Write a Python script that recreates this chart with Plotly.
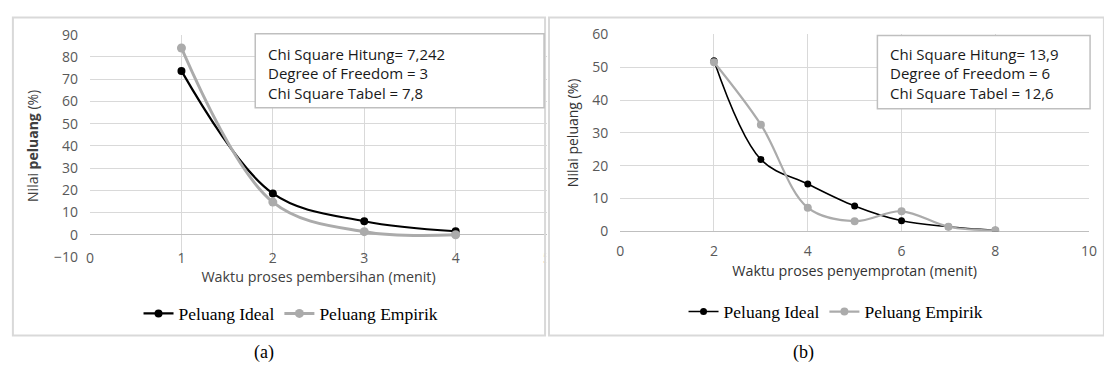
import plotly.graph_objects as go

W, H = 1104, 370

# ---------------- data ----------------
x_a = [1, 2, 3, 4]
ideal_a = [73.7, 18.6, 6.1, 1.6]
empirik_a = [84.0, 14.7, 1.4, 0.0]

x_b = [2, 3, 4, 5, 6, 7, 8]
ideal_b = [52.0, 21.9, 14.4, 7.7, 3.2, 1.4, 0.3]
empirik_b = [51.5, 32.5, 7.2, 3.1, 6.1, 1.4, 0.3]

series_names = ["Peluang Ideal", "Peluang Empirik"]

xticks_a = [0, 1, 2, 3, 4, 5]
yticks_a = [-10, 0, 10, 20, 30, 40, 50, 60, 70, 80, 90]
xticks_b = [0, 2, 4, 6, 8, 10]
yticks_b = [0, 10, 20, 30, 40, 50, 60]

xtitle_a = "Waktu proses pembersihan (menit)"
xtitle_b = "Waktu proses penyemprotan (menit)"
ytitle_a = "Nilai <b>peluang</b> (%)"
ytitle_b = "Nilai peluang (%)"

chi_a = ["Chi Square Hitung= 7,242", "Degree of Freedom = 3", "Chi Square Tabel = 7,8"]
chi_b = ["Chi Square Hitung= 13,9", "Degree of Freedom = 6", "Chi Square Tabel = 12,6"]
panel_labels = ["(a)", "(b)"]

# ---------------- helpers (pixel -> paper) ----------------
def px(x):
    return x / W

def py(y):
    return 1 - y / H

SANS = "Open Sans"
SERIF = "Liberation Serif"
TICK = "#595959"
TITLE = "#404040"
GRID = "#d9d9d9"
GREY = "#ababab"

fig = go.Figure()

# left panel traces
fig.add_trace(go.Scatter(x=x_a, y=ideal_a, name=series_names[0], mode="lines+markers",
                         line=dict(color="black", width=2.2, shape="spline"),
                         marker=dict(size=8, color="black"),
                         xaxis="x", yaxis="y", legend="legend"))
fig.add_trace(go.Scatter(x=x_a, y=empirik_a, name=series_names[1], mode="lines+markers",
                         line=dict(color=GREY, width=3, shape="spline"),
                         marker=dict(size=9, color=GREY),
                         xaxis="x", yaxis="y", legend="legend"))
# right panel traces
fig.add_trace(go.Scatter(x=x_b, y=ideal_b, name=series_names[0], mode="lines+markers",
                         line=dict(color="black", width=1.6, shape="spline"),
                         marker=dict(size=7, color="black"),
                         xaxis="x2", yaxis="y2", legend="legend2"))
fig.add_trace(go.Scatter(x=x_b, y=empirik_b, name=series_names[1], mode="lines+markers",
                         line=dict(color=GREY, width=2.2, shape="spline"),
                         marker=dict(size=8, color=GREY),
                         xaxis="x2", yaxis="y2", legend="legend2"))

axis_common = dict(showline=False, ticks="", gridcolor=GRID, gridwidth=1,
                   tickfont=dict(family=SANS, size=14, color=TICK))

fig.update_layout(
    width=W, height=H,
    margin=dict(l=0, r=0, t=0, b=0),
    paper_bgcolor="white", plot_bgcolor="white",
    xaxis=dict(domain=[px(87), px(549)], range=[0, 5], tickvals=xticks_a,
               anchor="free", position=py(251), zeroline=False,
               title=dict(text=xtitle_a, font=dict(family=SANS, size=14.3, color=TITLE), standoff=4),
               **axis_common),
    yaxis=dict(domain=[py(260.4), py(26)], range=[-10, 90], tickvals=yticks_a,
               anchor="x", zeroline=True, zerolinecolor="#bfbfbf", zerolinewidth=1,
               ticklabelstandoff=11,
               title=dict(text=ytitle_a, font=dict(family=SANS, size=14, color=TITLE), standoff=12),
               **axis_common),
    xaxis2=dict(domain=[px(623), px(1097)], range=[0, 10], tickvals=xticks_b,
                anchor="free", position=py(244), zeroline=False,
                title=dict(text=xtitle_b, font=dict(family=SANS, size=14.3, color="#333333"), standoff=6),
                **axis_common),
    yaxis2=dict(domain=[py(233.3), py(25.7)], range=[0, 60], tickvals=yticks_b,
                anchor="x2", zeroline=True, zerolinecolor="#bfbfbf", zerolinewidth=1,
                ticklabelstandoff=11,
                title=dict(text=ytitle_b, font=dict(family=SANS, size=14, color="#333333"), standoff=10),
                **axis_common),
    legend=dict(orientation="h", x=px(136), y=py(320), xanchor="left", yanchor="middle",
                font=dict(family=SERIF, size=17.5, color="black"), bgcolor="rgba(0,0,0,0)",
                itemwidth=30, tracegroupgap=0),
    legend2=dict(orientation="h", x=px(687), y=py(318), xanchor="left", yanchor="middle",
                 font=dict(family=SERIF, size=17.5, color="black"), bgcolor="rgba(0,0,0,0)",
                 itemwidth=30, tracegroupgap=0),
    showlegend=True,
)

shapes = []
# cover the clipped "5" tick label beyond the left panel edge
shapes.append(dict(type="rect", xref="paper", yref="paper", x0=px(548), x1=px(553),
                   y0=py(272), y1=py(248), fillcolor="white", line=dict(width=0), layer="above"))
# panel borders
shapes.append(dict(type="rect", xref="paper", yref="paper", x0=px(9), x1=px(547),
                   y0=py(343), y1=py(8), line=dict(color=GRID, width=2), layer="above"))
shapes.append(dict(type="rect", xref="paper", yref="paper", x0=px(551), x1=px(1112),
                   y0=py(343), y1=py(8), line=dict(color=GRID, width=2), layer="above"))
# chi-square boxes
shapes.append(dict(type="rect", xref="paper", yref="paper", x0=px(254), x1=px(546),
                   y0=py(103), y1=py(25), fillcolor="white", line=dict(color="#bfbfbf", width=1.5), layer="above"))
shapes.append(dict(type="rect", xref="paper", yref="paper", x0=px(883), x1=px(1098),
                   y0=py(104), y1=py(27), fillcolor="white", line=dict(color="#bfbfbf", width=1.5), layer="above"))
fig.update_layout(shapes=shapes)

annotations = []
for i, line in enumerate(chi_a):
    annotations.append(dict(text=line, xref="paper", yref="paper", x=px(265), y=py(46 + 20.5 * i),
                            xanchor="left", yanchor="middle", showarrow=False,
                            font=dict(family=SANS, size=15, color="#1a1a1a")))
for i, line in enumerate(chi_b):
    annotations.append(dict(text=line, xref="paper", yref="paper", x=px(894), y=py(46 + 20.5 * i),
                            xanchor="left", yanchor="middle", showarrow=False,
                            font=dict(family=SANS, size=15, color="#1a1a1a")))
annotations.append(dict(text=panel_labels[0], xref="paper", yref="paper", x=px(263), y=py(361),
                        xanchor="center", yanchor="middle", showarrow=False,
                        font=dict(family=SERIF, size=18, color="black")))
annotations.append(dict(text=panel_labels[1], xref="paper", yref="paper", x=px(808), y=py(361),
                        xanchor="center", yanchor="middle", showarrow=False,
                        font=dict(family=SERIF, size=18, color="black")))
fig.update_layout(annotations=annotations)

fig.write_html("out.html",
               config={"displayModeBar": False},
               post_script="document.body.style.margin='0';document.body.style.overflow='hidden';")
